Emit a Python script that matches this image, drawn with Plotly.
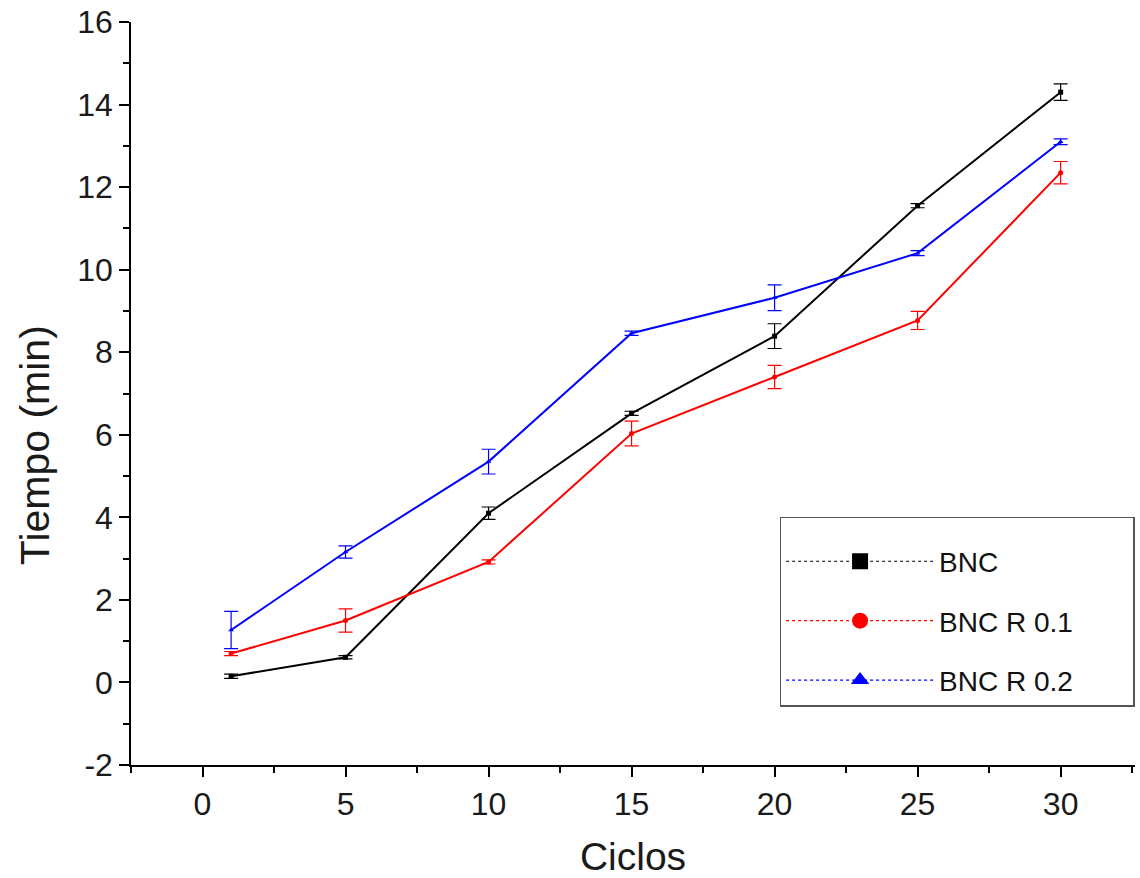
import plotly.graph_objects as go

ciclos = [1, 5, 10, 15, 20, 25, 30]
bnc = [0.15, 0.61, 4.1, 6.52, 8.39, 11.55, 14.3]
bnc_err = [0.05, 0.04, 0.15, 0.05, 0.3, 0.05, 0.2]
bnc_r01 = [0.7, 1.5, 2.92, 6.03, 7.4, 8.77, 12.35]
bnc_r01_err = [0.05, 0.28, 0.05, 0.3, 0.28, 0.22, 0.27]
bnc_r02 = [1.27, 3.16, 5.35, 8.46, 9.32, 10.4, 13.1]
bnc_r02_err = [0.45, 0.15, 0.3, 0.05, 0.31, 0.06, 0.07]

y_ticks = [-2, 0, 2, 4, 6, 8, 10, 12, 14, 16]
y_ticktext = ["-2", "0", "2", "4", "6", "8", "10", "12", "14", "16"]

names = ["BNC", "BNC R 0.1", "BNC R 0.2"]
colors = ["#000000", "#ff0000", "#0000ff"]
symbols = ["square", "circle", "triangle-up"]
series = [bnc, bnc_r01, bnc_r02]
errors = [bnc_err, bnc_r01_err, bnc_r02_err]

FONT = "Liberation Sans, Arial"

fig = go.Figure()
for name, col, sym, ys, es in zip(names, colors, symbols, series, errors):
    fig.add_trace(go.Scatter(
        x=ciclos, y=ys, mode="lines+markers", name=name, showlegend=False,
        line=dict(color=col, width=2),
        marker=dict(symbol=sym, size=5, color=col),
        error_y=dict(type="data", array=es, visible=True, color=col, thickness=1.2, width=7),
    ))
for i, (name, col, sym) in enumerate(zip(names, colors, symbols)):
    fig.add_trace(go.Scatter(
        x=[None], y=[None], mode="lines+markers", name=name + "\u00a0" * 7,
        legendgroup=f"g{i}",
        line=dict(color=col, width=1.2, dash="dot"),
        marker=dict(symbol=sym, size=20, color=col),
    ))

axis_common = dict(
    showline=True, linecolor="#000", linewidth=1.5, mirror=False,
    ticks="outside", ticklen=10, tickwidth=1.5, tickcolor="#000",
    showgrid=False, zeroline=False,
    tickfont=dict(family=FONT, size=32, color="#1a1a1a"),
)

fig.update_layout(
    width=1140, height=878,
    margin=dict(l=131, r=5, t=22, b=113),
    paper_bgcolor="white", plot_bgcolor="white",
    xaxis=dict(range=[-2.5, 32.6], tickmode="linear", tick0=0, dtick=5,
               minor=dict(dtick=2.5, tick0=0, ticks="outside", ticklen=6, tickwidth=1.5, tickcolor="#000"),
               title=dict(text="Ciclos", font=dict(family=FONT, size=39, color="#1a1a1a"), standoff=24),
               automargin=False,
               **axis_common),
    yaxis=dict(range=[-2, 16], tickmode="array", tickvals=y_ticks, ticktext=y_ticktext,
               minor=dict(dtick=1, tick0=0, ticks="outside", ticklen=6, tickwidth=1.5, tickcolor="#000"),
               automargin=False,
               **axis_common),
    annotations=[dict(text="Tiempo (min)", textangle=-90, xref="paper", yref="paper",
                      x=-0.096, y=0.43, xanchor="center", yanchor="middle", showarrow=False,
                      font=dict(family=FONT, size=41, color="#1a1a1a"))],
    legend=dict(x=0.646, y=0.334, xanchor="left", yanchor="top",
                bgcolor="white", bordercolor="#555", borderwidth=1.5,
                font=dict(family=FONT, size=28, color="#111"),
                tracegroupgap=20, itemwidth=148,
                title=dict(text="\u00a0", font=dict(size=14)),
                ),
)

fig.write_html("out.html")
